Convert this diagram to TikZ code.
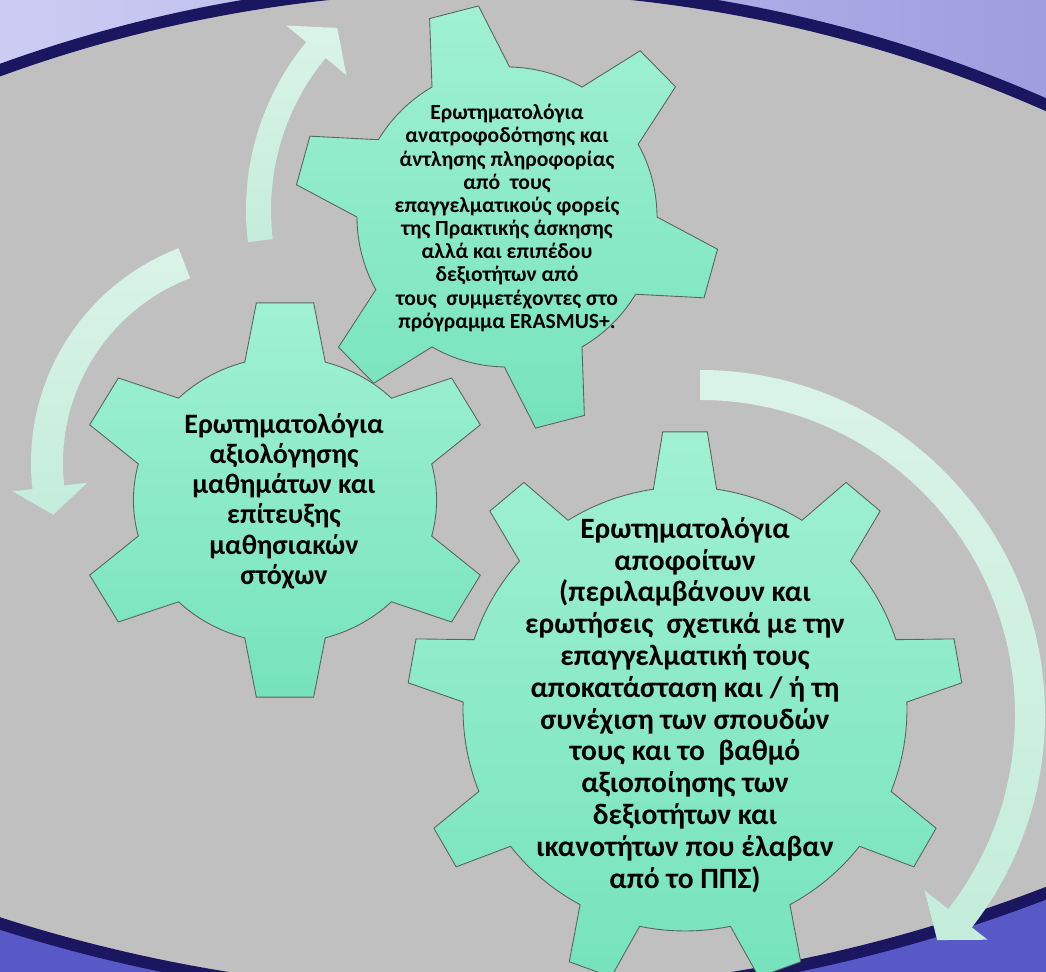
\documentclass[tikz,border=0pt]{standalone}
\usepackage{fontspec}
\setmainfont{Carlito}
\definecolor{lavl}{RGB}{204,204,243}
\definecolor{lavr}{RGB}{158,158,224}
\definecolor{bandnavy}{RGB}{26,22,96}
\definecolor{bgpurple}{RGB}{88,88,198}
\definecolor{bggray}{RGB}{192,192,192}
\definecolor{geartop}{RGB}{160,241,211}
\definecolor{gearbot}{RGB}{118,227,189}
\definecolor{gearline}{RGB}{90,100,95}
\definecolor{arrtop}{RGB}{218,243,232}
\definecolor{arrbot}{RGB}{196,237,219}

\tikzset{
  gearfill/.style={top color=geartop, bottom color=gearbot, draw=gearline, line width=0.5pt},
  arrowfill/.style={top color=arrtop, bottom color=arrbot},
  geartext/.style={align=center, text=black, inner sep=0pt}
}

% gear outline: options, first tooth, teeth, body r, tip r, base half angle, tip half angle
\newcommand{\geardraw}[7]{%
  \path[gearfill, #1] (#2-#6:#4)
  \foreach \k [evaluate=\k as \a using #2+(\k-1)*360/#3] in {1,...,#3}{
    -- (\a-#7:#5) -- (\a+#7:#5) -- (\a+#6:#4)
    arc[start angle=\a+#6, end angle=\a+360/#3-#6, radius=#4]
  } -- cycle;}

\begin{document}
\begin{tikzpicture}[x=0.02cm, y=-0.02cm]
  \useasboundingbox (0,0) rectangle (1046,972);
  \clip (0,0) rectangle (1046,972);
  % background
  \fill[left color=lavl, right color=lavr] (0,0) rectangle (1046,972);
  \begin{scope}
    \clip (480,1391) circle[radius=1405];
    \fill[bgpurple] (0,0) rectangle (1046,972);
    \fill[bggray] (480,-577) circle[radius=1575];
    \draw[bandnavy, line width=6.8pt] (480,-577) circle[radius=1575];
  \end{scope}
  \begin{scope}
    \clip (480,-577) circle[radius=1575];
    \draw[bandnavy, line width=6.8pt] (480,1391) circle[radius=1405];
  \end{scope}

  % arrows
  \begin{scope}[shift={(510,210)}]
    \path[arrowfill] (173:264) arc[start angle=173, end angle=219.5, radius=264]
      -- (219.5:290) -- (226.5:251) -- (219.5:212) -- (219.5:239)
      arc[start angle=219.5, end angle=173, radius=239] -- cycle;
  \end{scope}
  \begin{scope}[shift={(261,463)}]
    \path[arrowfill] (-111:230) arc[start angle=-111, end angle=-186.5, radius=230]
      -- (-186.5:250) -- (-194:214) -- (-186.5:175) -- (-186.5:198)
      arc[start angle=-186.5, end angle=-111, radius=198] -- cycle;
  \end{scope}
  \begin{scope}[shift={(700,715)}]
    \path[arrowfill] (-90:345) arc[start angle=-90, end angle=38, radius=345]
      -- (38:365) -- (43.5:327) -- (38:285) -- (38:315)
      arc[start angle=38, end angle=-90, radius=315] -- cycle;
  \end{scope}

  % gears
  \geardraw{shift={(285,500)}, xscale=1.06}{-90}{6}{143}{199}{15.4}{7.8}
  \geardraw{shift={(507,217)}}{-104.5}{6}{150}{213}{15.5}{6.8}
  \geardraw{shift={(685,709)}}{-90}{9}{222}{278}{8.2}{4.6}

  % texts
  \node[geartext, font=\bfseries\fontsize{12.3}{13.2}\selectfont] (txtfeedback) at (507,218)
    {Ερωτηματολόγια\\ανατροφοδότησης και\\άντλησης πληροφορίας\\από\ \ τους\\επαγγελματικούς φορείς\\της Πρακτικής άσκησης\\αλλά και επιπέδου\\δεξιοτήτων από\\τους\ \ συμμετέχοντες στο\\πρόγραμμα ERASMUS+.};
  \node[geartext, font=\bfseries\fontsize{16}{17.2}\selectfont] (txtcourses) at (284,501)
    {Ερωτηματολόγια\\αξιολόγησης\\μαθημάτων και\\επίτευξης\\μαθησιακών\\στόχων};
  \node[geartext, font=\bfseries\fontsize{16.8}{18.1}\selectfont] (txtgraduates) at (685,705)
    {Ερωτηματολόγια\\αποφοίτων\\(περιλαμβάνουν και\\ερωτήσεις\ \ σχετικά με την\\επαγγελματική τους\\αποκατάσταση και / ή τη\\συνέχιση των σπουδών\\τους και το\ \ βαθμό\\αξιοποίησης των\\δεξιοτήτων και\\ικανοτήτων που έλαβαν\\από το ΠΠΣ)};
\end{tikzpicture}
\end{document}
